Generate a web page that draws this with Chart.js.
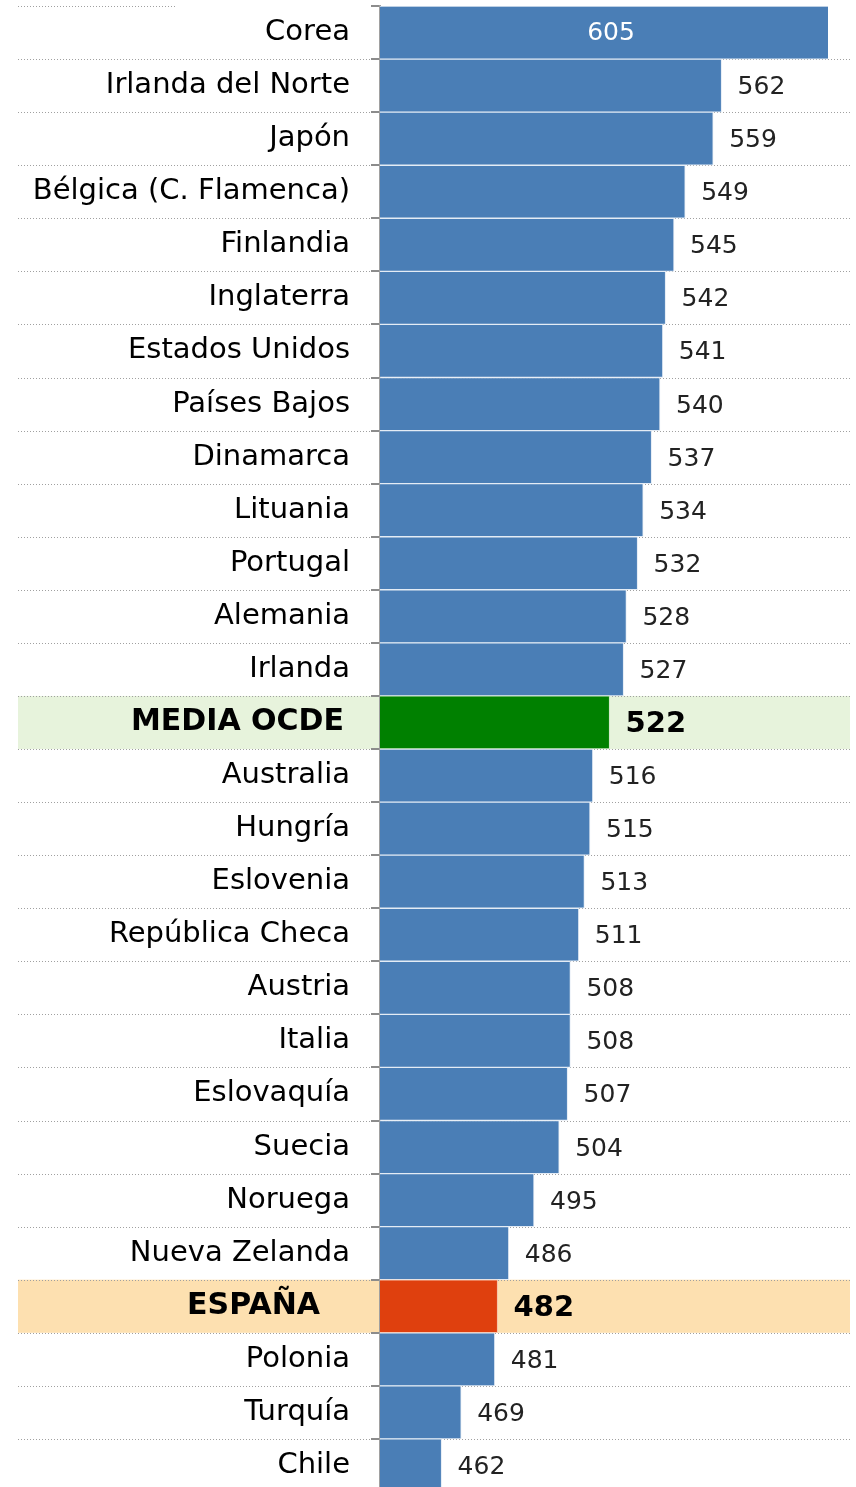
<!DOCTYPE html>
<html>
<head>
<meta charset="utf-8">
<script src="https://cdn.jsdelivr.net/npm/chart.js@4"></script>
<style>
    html, body { margin: 0; padding: 0; background: #fff; overflow: hidden; }
    canvas { display: block; }
</style>
</head>
<body>
<canvas id="chart" width="856" height="1492"></canvas>
<script>
const countries = [
    'Corea', 'Irlanda del Norte', 'Japón', 'Bélgica (C. Flamenca)', 'Finlandia',
    'Inglaterra', 'Estados Unidos', 'Países Bajos', 'Dinamarca', 'Lituania',
    'Portugal', 'Alemania', 'Irlanda', 'MEDIA OCDE', 'Australia', 'Hungría',
    'Eslovenia', 'República Checa', 'Austria', 'Italia', 'Eslovaquía', 'Suecia',
    'Noruega', 'Nueva Zelanda', 'ESPAÑA', 'Polonia', 'Turquía', 'Chile'
];
const scores = [
    605, 562, 559, 549, 545, 542, 541, 540, 537, 534, 532, 528, 527, 522,
    516, 515, 513, 511, 508, 508, 507, 504, 495, 486, 482, 481, 469, 462
];
const axisMin = 440;
const axisMax = 600;

const OECD_IDX = countries.indexOf('MEDIA OCDE');
const SPAIN_IDX = countries.indexOf('ESPAÑA');
const FONT = '"DejaVu Sans", sans-serif';

const isHighlight = i => i === OECD_IDX || i === SPAIN_IDX;

const barColors = countries.map((c, i) =>
    i === OECD_IDX ? '#008000' : (i === SPAIN_IDX ? '#df400e' : '#4a7eb6'));
const barBorders = countries.map((c, i) =>
    i === OECD_IDX ? '#cfe8c8' : (i === SPAIN_IDX ? '#f6c2aa' : '#e4ecf5'));

// fondos de fila resaltada + líneas punteadas separadoras
const rowsPlugin = {
    id: 'rows',
    beforeDraw(chart) {
        const ctx = chart.ctx;
        const area = chart.chartArea;
        const step = (area.bottom - area.top) / countries.length;
        ctx.save();
        [[OECD_IDX, '#e7f3dc'], [SPAIN_IDX, '#fde0b0']].forEach(([i, col]) => {
            ctx.fillStyle = col;
            ctx.fillRect(18, area.top + i * step, 832, step);
        });
        ctx.strokeStyle = '#a0a0a0';
        ctx.lineWidth = 1;
        ctx.setLineDash([1, 2]);
        ctx.beginPath();
        ctx.moveTo(18, area.top + 0.5);
        ctx.lineTo(175, area.top + 0.5);
        for (let k = 1; k < countries.length; k++) {
            const y = Math.round(area.top + k * step) + 0.5;
            ctx.moveTo(18, y);
            ctx.lineTo(850, y);
        }
        ctx.stroke();
        ctx.restore();
    },
    afterDatasetsDraw(chart) {
        const ctx = chart.ctx;
        const meta = chart.getDatasetMeta(0);
        const left = chart.chartArea.left;
        ctx.save();
        ctx.textBaseline = 'middle';
        meta.data.forEach((bar, i) => {
            const bold = isHighlight(i);
            ctx.font = (bold ? 'bold 29px ' : '25px ') + FONT;
            if (i === 0) {
                // la barra de Corea se sale del eje: etiqueta dentro, en blanco
                ctx.fillStyle = '#ffffff';
                ctx.textAlign = 'center';
                ctx.fillText(String(scores[i]), (left + bar.x) / 2, bar.y + 1);
            } else {
                ctx.fillStyle = bold ? '#000000' : '#222222';
                ctx.textAlign = 'left';
                ctx.fillText(String(scores[i]), bar.x + 16, bar.y + 2);
            }
        });
        ctx.restore();
    }
};

new Chart(document.getElementById('chart'), {
    type: 'bar',
    data: {
        labels: countries,
        datasets: [{
            data: scores,
            backgroundColor: barColors,
            borderColor: barBorders,
            borderWidth: 1,
            borderSkipped: 'start',
            categoryPercentage: 1,
            barPercentage: 1
        }]
    },
    options: {
        indexAxis: 'y',
        responsive: false,
        animation: false,
        layout: { padding: { top: 6, right: 28, bottom: 0, left: 0 } },
        plugins: {
            legend: { display: false },
            tooltip: { enabled: false }
        },
        scales: {
            x: {
                display: false,
                min: axisMin,
                max: axisMax
            },
            y: {
                afterFit(scale) {
                    scale.width = 380;
                    scale.paddingTop = 0;
                    scale.paddingBottom = 0;
                },
                grid: {
                    drawOnChartArea: false,
                    drawTicks: true,
                    tickLength: 9,
                    color: '#8c8c8c',
                    lineWidth: 2,
                    offset: true
                },
                border: { display: true, color: '#a0a0a0', width: 2 },
                ticks: {
                    padding: 21,
                    color: '#000000',
                    autoSkip: false,
                    callback: (v, i) => countries[i] +
                        (i === SPAIN_IDX ? '\u2003' : (i === OECD_IDX ? '\u2009' : '')),
                    font: ctx => isHighlight(ctx.index)
                        ? { family: FONT, size: 30, weight: 'bold' }
                        : { family: FONT, size: 29 }
                }
            }
        }
    },
    plugins: [rowsPlugin]
});
</script>
</body>
</html>
